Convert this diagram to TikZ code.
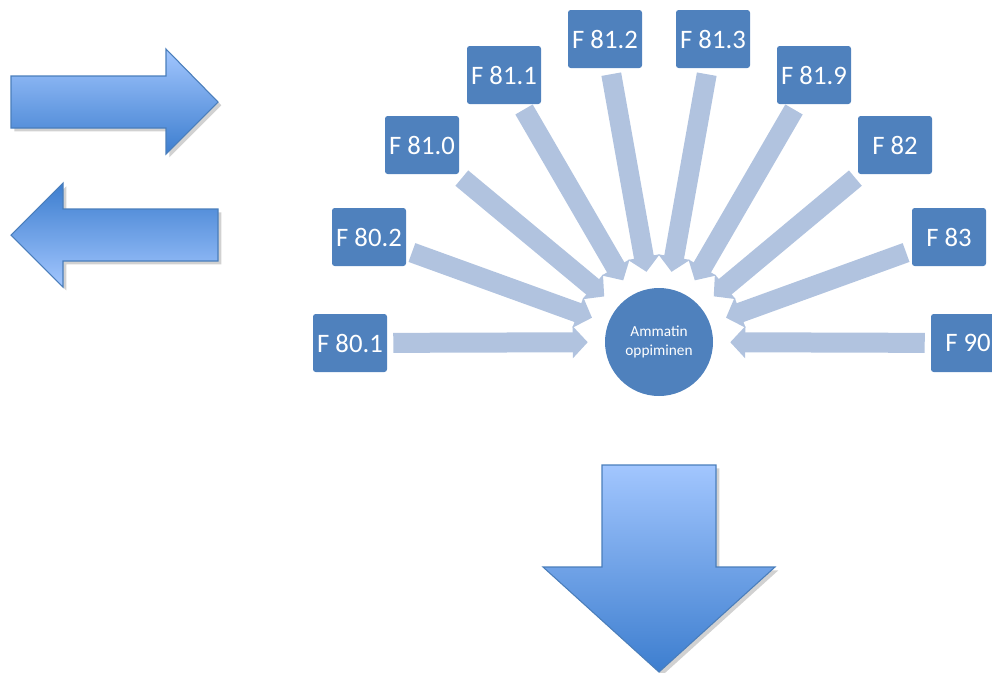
\documentclass[tikz,border=0pt]{standalone}
\usepackage{fontspec}
\setmainfont{Carlito}
\usepackage{tikz}
\usetikzlibrary{arrows.meta,shadows}

\definecolor{boxblue}{HTML}{4F81BD}
\definecolor{spokeblue}{HTML}{B1C3DF}
\definecolor{shadelight}{HTML}{A2C6FE}
\definecolor{shadedark}{HTML}{3D7ECF}
\definecolor{edgeblue}{HTML}{4A7EBB}

\tikzset{
  codebox/.style={fill=boxblue, text=white, rounded corners=2pt,
    minimum width=55.5pt, minimum height=43.5pt, inner sep=0pt,
    font=\fontsize{20}{24}\selectfont},
  hub/.style={circle, fill=boxblue, text=white, minimum size=81pt, inner sep=0pt,
    align=center, font=\fontsize{11.5}{14}\selectfont},
  spoke/.style={draw=spokeblue, line width=15pt,
    -{Triangle[width=23.5pt,length=11.25pt]}, shorten <=4.5pt, shorten >=12.75pt},
  bigarrow/.style={draw=edgeblue, line width=0.8pt, line join=miter,
    drop shadow={shadow xshift=2.5pt, shadow yshift=-2.5pt, fill=black!30, opacity=0.6}}
}

\begin{document}
\begin{tikzpicture}[x=0.75pt,y=-0.75pt]
\useasboundingbox (0,0) rectangle (992,672);

% side arrows
\path[bigarrow, top color=shadelight, bottom color=shadedark]
  (11,76) -- (166,76) -- (166,49) -- (218,102) -- (166,154) -- (166,128) -- (11,128) -- cycle;
\path[bigarrow, top color=shadedark, bottom color=shadelight]
  (218,209) -- (63,209) -- (63,183) -- (11,235) -- (63,287) -- (63,261) -- (218,261) -- cycle;

% down arrow
\path[bigarrow, top color=shadelight, bottom color=shadedark]
  (602,465) -- (716,465) -- (716,567) -- (775,567) -- (659,672) -- (543,567) -- (602,567) -- cycle;

% hub and codes
\node[hub] (hub) at (659,342) {Ammatin\\oppiminen};

\node[codebox] (f801) at (350,343) {F 80.1};
\node[codebox] (f802) at (369,237) {F 80.2};
\node[codebox] (f810) at (422,145) {F 81.0};
\node[codebox] (f811) at (504,75) {F 81.1};
\node[codebox] (f812) at (605,39) {F 81.2};
\node[codebox] (f813) at (713,39) {F 81.3};
\node[codebox] (f819) at (814,75) {F 81.9};
\node[codebox] (f82) at (895,145) {F 82};
\node[codebox] (f83) at (949,237) {F 83};
\node[codebox] (f90) at (968,343) {F 90};

\foreach \src in {f801,f802,f810,f811,f812,f813,f819,f82,f83,f90}
  \draw[spoke] (\src) -- (hub);
\end{tikzpicture}
\end{document}
